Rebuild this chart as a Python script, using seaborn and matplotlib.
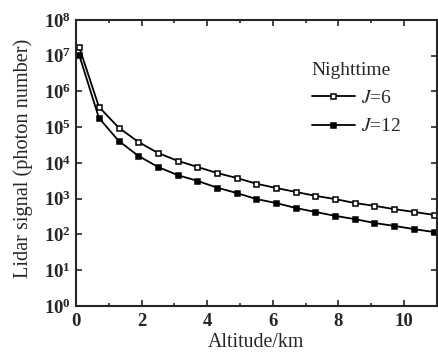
import numpy as np
import pandas as pd
import seaborn as sns
import matplotlib.pyplot as plt
from matplotlib.ticker import LogLocator, MultipleLocator, NullFormatter

# valores (log10 de la señal)
altitude = [0.1, 0.7, 1.3, 1.9, 2.5, 3.1, 3.7, 4.3, 4.9, 5.5,
            6.1, 6.7, 7.3, 7.9, 8.5, 9.1, 9.7, 10.3, 10.9]
log_j6 = [7.24, 5.57, 4.99, 4.59, 4.28, 4.06, 3.89, 3.72, 3.58, 3.42,
          3.30, 3.19, 3.08, 2.99, 2.88, 2.80, 2.71, 2.63, 2.55]
log_j12 = [7.02, 5.26, 4.62, 4.20, 3.89, 3.66, 3.50, 3.31, 3.16, 2.99,
           2.88, 2.74, 2.63, 2.52, 2.43, 2.32, 2.24, 2.15, 2.07]

df = pd.DataFrame({'alt': altitude,
                   'J6': 10 ** np.array(log_j6),
                   'J12': 10 ** np.array(log_j12)})

sns.set_style('ticks')
plt.rcParams['font.family'] = ['Liberation Serif', 'DejaVu Serif']
plt.rcParams['mathtext.fontset'] = 'stix'

fig = plt.figure(figsize=(4.39, 3.57), dpi=100)
ax = fig.add_axes([0.173, 0.143, 0.822, 0.801])

sns.lineplot(data=df, x='alt', y='J6', ax=ax, color='black', lw=1.3,
             marker='s', markersize=3.6, markerfacecolor='white',
             markeredgecolor='black', markeredgewidth=1.1, label=r'$J$=6')
sns.lineplot(data=df, x='alt', y='J12', ax=ax, color='black', lw=1.3,
             marker='s', markersize=3.6, markerfacecolor='black',
             markeredgecolor='black', markeredgewidth=1.1, label=r'$J$=12')

ax.set_yscale('log')
ax.set_xlim(0, 11)
ax.set_ylim(1, 1e8)
ax.set_yticks([10.0 ** k for k in range(9)])
ax.yaxis.set_minor_locator(LogLocator(base=10, subs=np.arange(2, 10)))
ax.yaxis.set_minor_formatter(NullFormatter())
ax.set_xticks([0, 2, 4, 6, 8, 10])
ax.xaxis.set_minor_locator(MultipleLocator(1))

ax.tick_params(which='both', direction='in', top=True, right=True,
               labelsize=13.5, width=1.2)
ax.tick_params(which='major', length=4)
ax.tick_params(which='minor', length=2)
ax.tick_params(axis='x', pad=5)
for lab in ax.get_xticklabels() + ax.get_yticklabels():
    lab.set_fontweight('bold')
for s in ax.spines.values():
    s.set_linewidth(1.5)

ax.set_xlabel('Altitude/km', fontsize=14.3, labelpad=2)
ax.set_ylabel('Lidar signal (photon number)', fontsize=14.6)
ax.yaxis.set_label_coords(-0.12, 0.517)

leg = ax.legend(title='Nighttime', loc='upper left', bbox_to_anchor=(0.605, 0.915),
                frameon=False, fontsize=14, title_fontsize=14,
                handlelength=2.2, handletextpad=0.35, labelspacing=0.55)
leg._legend_box.align = 'left'

fig.savefig('out.png', dpi=100)
